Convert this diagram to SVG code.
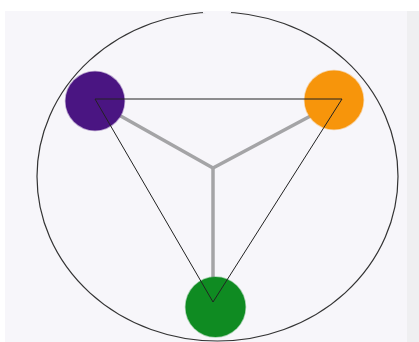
<svg xmlns="http://www.w3.org/2000/svg" width="419" height="342" viewBox="0 0 419 342">
  <style>
    .spoke { stroke: #a4a4a6; stroke-width: 3.5; stroke-linecap: round; fill: none; }
    .tri { stroke: #222; stroke-width: 1; fill: none; }
    .ring { stroke: #333; stroke-width: 1.2; fill: none; }
    .dot { stroke-width: 1.5; stroke-opacity: 0.35; }
  </style>
  <rect x="0" y="0" width="419" height="342" fill="#ffffff"/>
  <rect x="5" y="11" width="402" height="331" fill="#f7f6fa"/>
  <rect x="407" y="11" width="12" height="331" fill="#efeff1"/>
  <ellipse class="ring" cx="217.5" cy="176.5" rx="180.5" ry="164.5"/>
  <rect x="203" y="0" width="28" height="11" fill="#ffffff"/>
  <rect x="203" y="11" width="28" height="2.5" fill="#f7f6fa"/>
  <g id="connectors">
    <line class="spoke" x1="213" y1="168" x2="110" y2="110"/>
    <line class="spoke" x1="213" y1="168" x2="318" y2="112"/>
    <line class="spoke" x1="213" y1="168" x2="213" y2="280"/>
  </g>
  <g id="purple"><circle class="dot" cx="95" cy="101" r="29.5" fill="#4a1582" stroke="#4a1582"/></g>
  <g id="orange"><circle class="dot" cx="334" cy="100" r="29.5" fill="#f7950b" stroke="#f7950b"/></g>
  <g id="green"><circle class="dot" cx="215.5" cy="307" r="30" fill="#0f8b22" stroke="#0f8b22"/></g>
  <g id="triangle">
    <polygon class="tri" points="95,99 342,99 213,302"/>
  </g>
</svg>
